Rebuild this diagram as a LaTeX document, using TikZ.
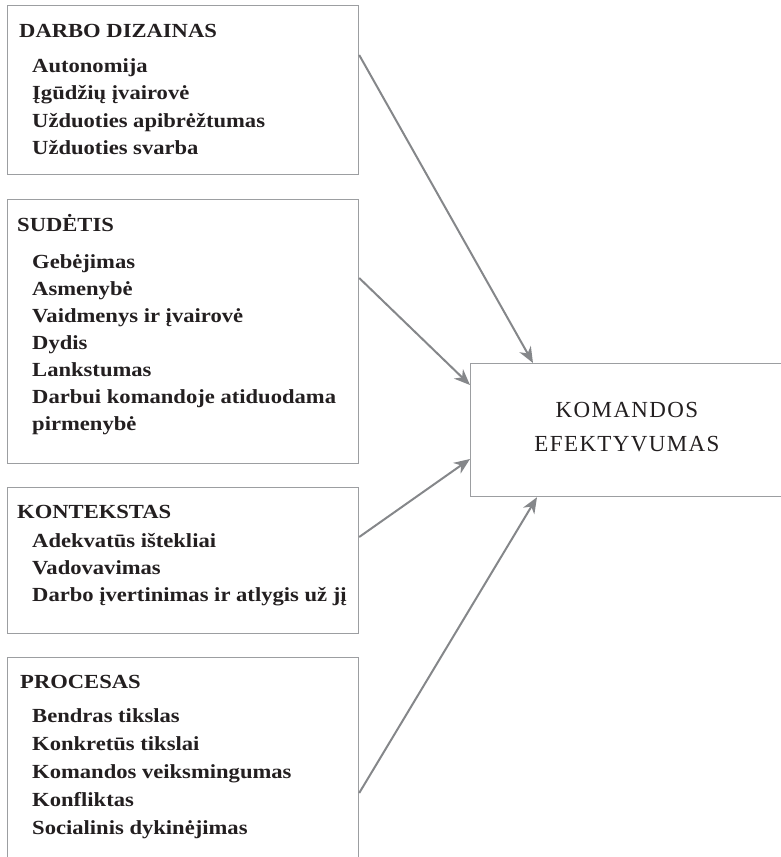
\documentclass[tikz,border=0pt]{standalone}
\usepackage{fontspec}
\setmainfont{Liberation Serif}
\newfontfamily\boxfont[FakeStretch=1.13]{Liberation Serif}
\newfontfamily\goalfont[LetterSpace=6]{Liberation Serif}
\usetikzlibrary{arrows.meta,calc}
\definecolor{frame}{HTML}{9C9EA1}
\definecolor{link}{HTML}{85878A}
\definecolor{ink}{HTML}{231F20}
\tikzset{
  factor/.style={draw=frame, line width=1.2pt, rectangle, inner sep=0pt, anchor=north west},
  head/.style={anchor=base west, inner sep=0pt, text=ink, font=\boxfont\bfseries\fontsize{20}{24}\selectfont},
  item/.style={anchor=base west, inner sep=0pt, text=ink, font=\boxfont\bfseries\fontsize{20}{24}\selectfont},
  goal/.style={anchor=base, inner sep=0pt, text=ink, font=\goalfont\fontsize{23}{27}\selectfont},
  influence/.style={draw=link, line width=2pt, -{Stealth[length=16pt,width=13pt,inset=5pt]}}
}
\begin{document}
\begin{tikzpicture}[x=1pt,y=-1pt]
\useasboundingbox (0,0) rectangle (781,857);
\clip (0,0) rectangle (781,857);

% factor boxes
\node[factor, minimum width=351pt, minimum height=169pt] (design) at (7,5) {};
\node[factor, minimum width=351pt, minimum height=264pt] (comp) at (7,199) {};
\node[factor, minimum width=351pt, minimum height=146pt] (ctx) at (7,487) {};
\node[factor, minimum width=351pt, minimum height=230pt] (proc) at (7,657) {};

% outcome box (runs past the right margin)
\node[factor, minimum width=340pt, minimum height=133pt] (eff) at (470,363) {};
\node[goal] (effA) at (627,417) {KOMANDOS};
\node[goal] (effB) at (627,451) {EFEKTYVUMAS};

% DARBO DIZAINAS
\node[head] (dh) at (19,37.5) {DARBO DIZAINAS};
\node[item] (d1) at (32,72) {Autonomija};
\node[item] (d2) at (32,99.5) {Įgūdžių įvairovė};
\node[item] (d3) at (32,127) {Užduoties apibrėžtumas};
\node[item] (d4) at (32,154.5) {Užduoties svarba};

% SUDĖTIS
\node[head] (ch) at (17,231) {SUDĖTIS};
\node[item] (c1) at (32,268) {Gebėjimas};
\node[item] (c2) at (32,295) {Asmenybė};
\node[item] (c3) at (32,322) {Vaidmenys ir įvairovė};
\node[item] (c4) at (32,349) {Dydis};
\node[item] (c5) at (32,376) {Lankstumas};
\node[item] (c6) at (32,403) {Darbui komandoje atiduodama};
\node[item] (c7) at (32,430) {pirmenybė};

% KONTEKSTAS
\node[head] (xh) at (17,518) {KONTEKSTAS};
\node[item] (x1) at (32,547) {Adekvatūs ištekliai};
\node[item] (x2) at (32,574) {Vadovavimas};
\node[item] (x3) at (32,601) {Darbo įvertinimas ir atlygis už jį};

% PROCESAS
\node[head] (ph) at (20,688) {PROCESAS};
\node[item] (p1) at (32,722.5) {Bendras tikslas};
\node[item] (p2) at (32,750.5) {Konkretūs tikslai};
\node[item] (p3) at (32,778.5) {Komandos veiksmingumas};
\node[item] (p4) at (32,806.5) {Konfliktas};
\node[item] (p5) at (32,834.5) {Socialinis dykinėjimas};

% influences on team effectiveness
\draw[influence] ($(design.north east)+(0,50)$) -- ($(eff.north west)+(63,0)$);
\draw[influence] ($(comp.north east)+(0,79)$) -- ($(eff.north west)+(0,22)$);
\draw[influence] ($(ctx.north east)+(0,50)$) -- ($(eff.north west)+(0,96)$);
\draw[influence] ($(proc.north east)+(0,136)$) -- ($(eff.south west)+(67,0)$);
\end{tikzpicture}
\end{document}
